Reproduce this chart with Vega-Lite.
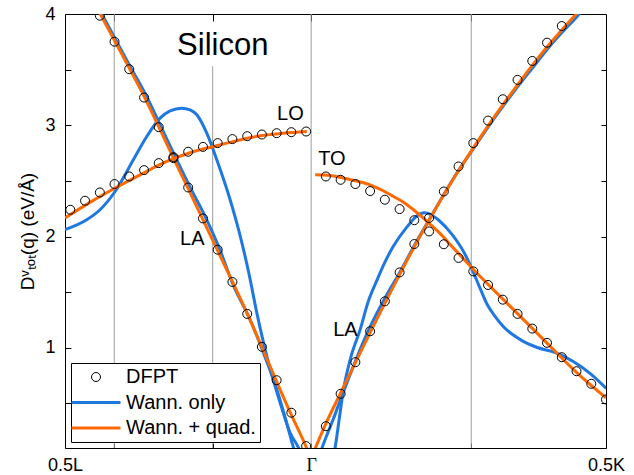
{
  "$schema": "https://vega.github.io/schema/vega-lite/v6.json",
  "width": 541,
  "height": 434,
  "autosize": {"type": "none"},
  "padding": {"left": 65, "top": 14, "right": 28, "bottom": 27},
  "background": "white",
  "config": {
    "view": {"stroke": "black", "strokeWidth": 1},
    "font": "Liberation Sans",
    "axis": {"grid": false, "domain": false, "tickColor": "black", "tickWidth": 1, "labelColor": "black", "labelFont": "Liberation Sans", "labelFontSize": 18, "titleFont": "Liberation Sans", "titleFontSize": 19, "titleFontWeight": "normal", "titleColor": "black"}
  },
  "datasets": {
    "vlines": [
      {"x": -0.3339, "y": 0.1, "y2": 4},
      {"x": -0.167, "y": 0.1, "y2": 3.53},
      {"x": 0, "y": 0.1, "y2": 4},
      {"x": 0.2715, "y": 0.1, "y2": 4}
    ],
    "curves": [
      {"series": "Wann. only", "branch": "LOL", "x": -0.4174, "y": 2.062},
      {"series": "Wann. only", "branch": "LOL", "x": -0.3806, "y": 2.151},
      {"series": "Wann. only", "branch": "LOL", "x": -0.358, "y": 2.241},
      {"series": "Wann. only", "branch": "LOL", "x": -0.3325, "y": 2.405},
      {"series": "Wann. only", "branch": "LOL", "x": -0.3015, "y": 2.69},
      {"series": "Wann. only", "branch": "LOL", "x": -0.2788, "y": 2.899},
      {"series": "Wann. only", "branch": "LOL", "x": -0.2562, "y": 3.064},
      {"series": "Wann. only", "branch": "LOL", "x": -0.2392, "y": 3.13},
      {"series": "Wann. only", "branch": "LOL", "x": -0.2194, "y": 3.154},
      {"series": "Wann. only", "branch": "LOL", "x": -0.2053, "y": 3.138},
      {"series": "Wann. only", "branch": "LOL", "x": -0.1939, "y": 3.094},
      {"series": "Wann. only", "branch": "LOL", "x": -0.177, "y": 2.929},
      {"series": "Wann. only", "branch": "LOL", "x": -0.16, "y": 2.69},
      {"series": "Wann. only", "branch": "LOL", "x": -0.1374, "y": 2.331},
      {"series": "Wann. only", "branch": "LOL", "x": -0.1222, "y": 2.044},
      {"series": "Wann. only", "branch": "LOL", "x": -0.1057, "y": 1.673},
      {"series": "Wann. only", "branch": "LOL", "x": -0.0921, "y": 1.314},
      {"series": "Wann. only", "branch": "LOL", "x": -0.0752, "y": 0.925},
      {"series": "Wann. only", "branch": "LOL", "x": -0.0526, "y": 0.506},
      {"series": "Wann. only", "branch": "LOL", "x": -0.0356, "y": 0.237},
      {"series": "Wann. only", "branch": "LOL", "x": -0.0215, "y": 0.103},
      {"series": "Wann. only", "branch": "LOL", "x": -0.0102, "y": -0.047},
      {"series": "Wann. only", "branch": "LAL", "x": -0.36, "y": 4.05},
      {"series": "Wann. only", "branch": "LAL", "x": -0.3297, "y": 3.751},
      {"series": "Wann. only", "branch": "LAL", "x": -0.3046, "y": 3.506},
      {"series": "Wann. only", "branch": "LAL", "x": -0.2788, "y": 3.258},
      {"series": "Wann. only", "branch": "LAL", "x": -0.2533, "y": 2.972},
      {"series": "Wann. only", "branch": "LAL", "x": -0.2279, "y": 2.69},
      {"series": "Wann. only", "branch": "LAL", "x": -0.2036, "y": 2.425},
      {"series": "Wann. only", "branch": "LAL", "x": -0.1798, "y": 2.181},
      {"series": "Wann. only", "branch": "LAL", "x": -0.1561, "y": 1.9},
      {"series": "Wann. only", "branch": "LAL", "x": -0.1318, "y": 1.56},
      {"series": "Wann. only", "branch": "LAL", "x": -0.1035, "y": 1.254},
      {"series": "Wann. only", "branch": "LAL", "x": -0.0809, "y": 0.955},
      {"series": "Wann. only", "branch": "LAL", "x": -0.0582, "y": 0.626},
      {"series": "Wann. only", "branch": "LAL", "x": -0.0441, "y": 0.374},
      {"series": "Wann. only", "branch": "LAL", "x": -0.03, "y": 0.103},
      {"series": "Wann. only", "branch": "LAL", "x": -0.0187, "y": -0.092},
      {"series": "Wann. only", "branch": "LAR", "x": 0.0085, "y": -0.056},
      {"series": "Wann. only", "branch": "LAR", "x": 0.0187, "y": 0.105},
      {"series": "Wann. only", "branch": "LAR", "x": 0.0271, "y": 0.222},
      {"series": "Wann. only", "branch": "LAR", "x": 0.0373, "y": 0.356},
      {"series": "Wann. only", "branch": "LAR", "x": 0.0492, "y": 0.527},
      {"series": "Wann. only", "branch": "LAR", "x": 0.0628, "y": 0.715},
      {"series": "Wann. only", "branch": "LAR", "x": 0.0747, "y": 0.877},
      {"series": "Wann. only", "branch": "LAR", "x": 0.0865, "y": 1.03},
      {"series": "Wann. only", "branch": "LAR", "x": 0.1001, "y": 1.191},
      {"series": "Wann. only", "branch": "LAR", "x": 0.1255, "y": 1.451},
      {"series": "Wann. only", "branch": "LAR", "x": 0.151, "y": 1.685},
      {"series": "Wann. only", "branch": "LAR", "x": 0.1748, "y": 1.918},
      {"series": "Wann. only", "branch": "LAR", "x": 0.2002, "y": 2.151},
      {"series": "Wann. only", "branch": "LAR", "x": 0.2257, "y": 2.385},
      {"series": "Wann. only", "branch": "LAR", "x": 0.2494, "y": 2.591},
      {"series": "Wann. only", "branch": "LAR", "x": 0.2749, "y": 2.788},
      {"series": "Wann. only", "branch": "LAR", "x": 0.3003, "y": 2.986},
      {"series": "Wann. only", "branch": "LAR", "x": 0.3258, "y": 3.174},
      {"series": "Wann. only", "branch": "LAR", "x": 0.3512, "y": 3.354},
      {"series": "Wann. only", "branch": "LAR", "x": 0.3767, "y": 3.524},
      {"series": "Wann. only", "branch": "LAR", "x": 0.4021, "y": 3.695},
      {"series": "Wann. only", "branch": "LAR", "x": 0.4276, "y": 3.847},
      {"series": "Wann. only", "branch": "LAR", "x": 0.4531, "y": 3.991},
      {"series": "Wann. only", "branch": "LAR", "x": 0.4598, "y": 4.036},
      {"series": "Wann. only", "branch": "TOR", "x": 0.0322, "y": -0.092},
      {"series": "Wann. only", "branch": "TOR", "x": 0.0407, "y": 0.105},
      {"series": "Wann. only", "branch": "TOR", "x": 0.0475, "y": 0.356},
      {"series": "Wann. only", "branch": "TOR", "x": 0.0543, "y": 0.608},
      {"series": "Wann. only", "branch": "TOR", "x": 0.0662, "y": 0.895},
      {"series": "Wann. only", "branch": "TOR", "x": 0.0831, "y": 1.164},
      {"series": "Wann. only", "branch": "TOR", "x": 0.0967, "y": 1.415},
      {"series": "Wann. only", "branch": "TOR", "x": 0.112, "y": 1.613},
      {"series": "Wann. only", "branch": "TOR", "x": 0.1255, "y": 1.775},
      {"series": "Wann. only", "branch": "TOR", "x": 0.1391, "y": 1.91},
      {"series": "Wann. only", "branch": "TOR", "x": 0.1629, "y": 2.089},
      {"series": "Wann. only", "branch": "TOR", "x": 0.1798, "y": 2.187},
      {"series": "Wann. only", "branch": "TOR", "x": 0.1917, "y": 2.214},
      {"series": "Wann. only", "branch": "TOR", "x": 0.2036, "y": 2.196},
      {"series": "Wann. only", "branch": "TOR", "x": 0.2155, "y": 2.151},
      {"series": "Wann. only", "branch": "TOR", "x": 0.2392, "y": 2.017},
      {"series": "Wann. only", "branch": "TOR", "x": 0.2613, "y": 1.837},
      {"series": "Wann. only", "branch": "TOR", "x": 0.2732, "y": 1.703},
      {"series": "Wann. only", "branch": "TOR", "x": 0.2867, "y": 1.532},
      {"series": "Wann. only", "branch": "TOR", "x": 0.2986, "y": 1.389},
      {"series": "Wann. only", "branch": "TOR", "x": 0.3122, "y": 1.281},
      {"series": "Wann. only", "branch": "TOR", "x": 0.3258, "y": 1.191},
      {"series": "Wann. only", "branch": "TOR", "x": 0.3546, "y": 1.074},
      {"series": "Wann. only", "branch": "TOR", "x": 0.3834, "y": 1.003},
      {"series": "Wann. only", "branch": "TOR", "x": 0.414, "y": 0.958},
      {"series": "Wann. only", "branch": "TOR", "x": 0.4445, "y": 0.877},
      {"series": "Wann. only", "branch": "TOR", "x": 0.4734, "y": 0.769},
      {"series": "Wann. only", "branch": "TOR", "x": 0.5005, "y": 0.635},
      {"series": "Wann. + quad.", "branch": "LOL", "x": -0.4174, "y": 2.167},
      {"series": "Wann. + quad.", "branch": "LOL", "x": -0.375, "y": 2.307},
      {"series": "Wann. + quad.", "branch": "LOL", "x": -0.3325, "y": 2.436},
      {"series": "Wann. + quad.", "branch": "LOL", "x": -0.2901, "y": 2.555},
      {"series": "Wann. + quad.", "branch": "LOL", "x": -0.2448, "y": 2.675},
      {"series": "Wann. + quad.", "branch": "LOL", "x": -0.2053, "y": 2.753},
      {"series": "Wann. + quad.", "branch": "LOL", "x": -0.1658, "y": 2.809},
      {"series": "Wann. + quad.", "branch": "LOL", "x": -0.1256, "y": 2.862},
      {"series": "Wann. + quad.", "branch": "LOL", "x": -0.0865, "y": 2.905},
      {"series": "Wann. + quad.", "branch": "LOL", "x": -0.0475, "y": 2.929},
      {"series": "Wann. + quad.", "branch": "LOL", "x": -0.0073, "y": 2.944},
      {"series": "Wann. + quad.", "branch": "LAL", "x": -0.3631, "y": 4.054},
      {"series": "Wann. + quad.", "branch": "LAL", "x": -0.3334, "y": 3.762},
      {"series": "Wann. + quad.", "branch": "LAL", "x": -0.3085, "y": 3.515},
      {"series": "Wann. + quad.", "branch": "LAL", "x": -0.2833, "y": 3.26},
      {"series": "Wann. + quad.", "branch": "LAL", "x": -0.2584, "y": 2.986},
      {"series": "Wann. + quad.", "branch": "LAL", "x": -0.2335, "y": 2.705},
      {"series": "Wann. + quad.", "branch": "LAL", "x": -0.2085, "y": 2.43},
      {"series": "Wann. + quad.", "branch": "LAL", "x": -0.1834, "y": 2.151},
      {"series": "Wann. + quad.", "branch": "LAL", "x": -0.1585, "y": 1.873},
      {"series": "Wann. + quad.", "branch": "LAL", "x": -0.1335, "y": 1.595},
      {"series": "Wann. + quad.", "branch": "LAL", "x": -0.1084, "y": 1.308},
      {"series": "Wann. + quad.", "branch": "LAL", "x": -0.0835, "y": 1.007},
      {"series": "Wann. + quad.", "branch": "LAL", "x": -0.0585, "y": 0.697},
      {"series": "Wann. + quad.", "branch": "LAL", "x": -0.0336, "y": 0.397},
      {"series": "Wann. + quad.", "branch": "LAL", "x": -0.0085, "y": 0.11},
      {"series": "Wann. + quad.", "branch": "LAL", "x": 0, "y": 0},
      {"series": "Wann. + quad.", "branch": "LAR", "x": 0, "y": 0},
      {"series": "Wann. + quad.", "branch": "LAR", "x": 0.0076, "y": 0.105},
      {"series": "Wann. + quad.", "branch": "LAR", "x": 0.025, "y": 0.32},
      {"series": "Wann. + quad.", "branch": "LAR", "x": 0.05, "y": 0.594},
      {"series": "Wann. + quad.", "branch": "LAR", "x": 0.075, "y": 0.868},
      {"series": "Wann. + quad.", "branch": "LAR", "x": 0.1, "y": 1.137},
      {"series": "Wann. + quad.", "branch": "LAR", "x": 0.125, "y": 1.402},
      {"series": "Wann. + quad.", "branch": "LAR", "x": 0.15, "y": 1.658},
      {"series": "Wann. + quad.", "branch": "LAR", "x": 0.175, "y": 1.909},
      {"series": "Wann. + quad.", "branch": "LAR", "x": 0.2, "y": 2.147},
      {"series": "Wann. + quad.", "branch": "LAR", "x": 0.225, "y": 2.376},
      {"series": "Wann. + quad.", "branch": "LAR", "x": 0.25, "y": 2.591},
      {"series": "Wann. + quad.", "branch": "LAR", "x": 0.275, "y": 2.797},
      {"series": "Wann. + quad.", "branch": "LAR", "x": 0.3, "y": 2.995},
      {"series": "Wann. + quad.", "branch": "LAR", "x": 0.325, "y": 3.183},
      {"series": "Wann. + quad.", "branch": "LAR", "x": 0.35, "y": 3.363},
      {"series": "Wann. + quad.", "branch": "LAR", "x": 0.375, "y": 3.538},
      {"series": "Wann. + quad.", "branch": "LAR", "x": 0.4, "y": 3.704},
      {"series": "Wann. + quad.", "branch": "LAR", "x": 0.425, "y": 3.856},
      {"series": "Wann. + quad.", "branch": "LAR", "x": 0.45, "y": 4.003},
      {"series": "Wann. + quad.", "branch": "LAR", "x": 0.46, "y": 4.06},
      {"series": "Wann. + quad.", "branch": "TOR", "x": 0.0068, "y": 2.555},
      {"series": "Wann. + quad.", "branch": "TOR", "x": 0.0288, "y": 2.551},
      {"series": "Wann. + quad.", "branch": "TOR", "x": 0.0548, "y": 2.526},
      {"series": "Wann. + quad.", "branch": "TOR", "x": 0.078, "y": 2.497},
      {"series": "Wann. + quad.", "branch": "TOR", "x": 0.1001, "y": 2.465},
      {"series": "Wann. + quad.", "branch": "TOR", "x": 0.1205, "y": 2.416},
      {"series": "Wann. + quad.", "branch": "TOR", "x": 0.1397, "y": 2.36},
      {"series": "Wann. + quad.", "branch": "TOR", "x": 0.1578, "y": 2.304},
      {"series": "Wann. + quad.", "branch": "TOR", "x": 0.1736, "y": 2.241},
      {"series": "Wann. + quad.", "branch": "TOR", "x": 0.1934, "y": 2.151},
      {"series": "Wann. + quad.", "branch": "TOR", "x": 0.2155, "y": 2.044},
      {"series": "Wann. + quad.", "branch": "TOR", "x": 0.2387, "y": 1.912},
      {"series": "Wann. + quad.", "branch": "TOR", "x": 0.2727, "y": 1.718},
      {"series": "Wann. + quad.", "branch": "TOR", "x": 0.3376, "y": 1.373},
      {"series": "Wann. + quad.", "branch": "TOR", "x": 0.3941, "y": 1.074},
      {"series": "Wann. + quad.", "branch": "TOR", "x": 0.4508, "y": 0.776},
      {"series": "Wann. + quad.", "branch": "TOR", "x": 0.5, "y": 0.551}
    ],
    "dfpt": [
      {"series": "DFPT", "branch": "LO", "x": -0.4084, "y": 2.241},
      {"series": "DFPT", "branch": "LO", "x": -0.3834, "y": 2.322},
      {"series": "DFPT", "branch": "LO", "x": -0.3583, "y": 2.396},
      {"series": "DFPT", "branch": "LO", "x": -0.3334, "y": 2.472},
      {"series": "DFPT", "branch": "LO", "x": -0.3085, "y": 2.54},
      {"series": "DFPT", "branch": "LO", "x": -0.2833, "y": 2.597},
      {"series": "DFPT", "branch": "LO", "x": -0.2584, "y": 2.66},
      {"series": "DFPT", "branch": "LO", "x": -0.2335, "y": 2.714},
      {"series": "DFPT", "branch": "LO", "x": -0.2085, "y": 2.762},
      {"series": "DFPT", "branch": "LO", "x": -0.1834, "y": 2.806},
      {"series": "DFPT", "branch": "LO", "x": -0.1585, "y": 2.84},
      {"series": "DFPT", "branch": "LO", "x": -0.1335, "y": 2.876},
      {"series": "DFPT", "branch": "LO", "x": -0.1084, "y": 2.902},
      {"series": "DFPT", "branch": "LO", "x": -0.0835, "y": 2.917},
      {"series": "DFPT", "branch": "LO", "x": -0.0585, "y": 2.929},
      {"series": "DFPT", "branch": "LO", "x": -0.0336, "y": 2.938},
      {"series": "DFPT", "branch": "LO", "x": -0.0085, "y": 2.944},
      {"series": "DFPT", "branch": "LAL", "x": -0.3583, "y": 3.985},
      {"series": "DFPT", "branch": "LAL", "x": -0.3334, "y": 3.751},
      {"series": "DFPT", "branch": "LAL", "x": -0.3085, "y": 3.504},
      {"series": "DFPT", "branch": "LAL", "x": -0.2833, "y": 3.249},
      {"series": "DFPT", "branch": "LAL", "x": -0.2584, "y": 2.983},
      {"series": "DFPT", "branch": "LAL", "x": -0.2335, "y": 2.705},
      {"series": "DFPT", "branch": "LAL", "x": -0.2085, "y": 2.441},
      {"series": "DFPT", "branch": "LAL", "x": -0.1834, "y": 2.163},
      {"series": "DFPT", "branch": "LAL", "x": -0.1585, "y": 1.882},
      {"series": "DFPT", "branch": "LAL", "x": -0.1335, "y": 1.592},
      {"series": "DFPT", "branch": "LAL", "x": -0.1084, "y": 1.305},
      {"series": "DFPT", "branch": "LAL", "x": -0.0835, "y": 1.009},
      {"series": "DFPT", "branch": "LAL", "x": -0.0585, "y": 0.709},
      {"series": "DFPT", "branch": "LAL", "x": -0.0336, "y": 0.417},
      {"series": "DFPT", "branch": "LAL", "x": -0.0085, "y": 0.117},
      {"series": "DFPT", "branch": "TO", "x": 0.025, "y": 2.54},
      {"series": "DFPT", "branch": "TO", "x": 0.05, "y": 2.51},
      {"series": "DFPT", "branch": "TO", "x": 0.075, "y": 2.472},
      {"series": "DFPT", "branch": "TO", "x": 0.1, "y": 2.409},
      {"series": "DFPT", "branch": "TO", "x": 0.125, "y": 2.331},
      {"series": "DFPT", "branch": "TO", "x": 0.15, "y": 2.247},
      {"series": "DFPT", "branch": "TO", "x": 0.175, "y": 2.147},
      {"series": "DFPT", "branch": "TO", "x": 0.2, "y": 2.046},
      {"series": "DFPT", "branch": "TO", "x": 0.225, "y": 1.931},
      {"series": "DFPT", "branch": "TO", "x": 0.25, "y": 1.808},
      {"series": "DFPT", "branch": "TO", "x": 0.275, "y": 1.687},
      {"series": "DFPT", "branch": "TO", "x": 0.3, "y": 1.565},
      {"series": "DFPT", "branch": "TO", "x": 0.325, "y": 1.433},
      {"series": "DFPT", "branch": "TO", "x": 0.35, "y": 1.305},
      {"series": "DFPT", "branch": "TO", "x": 0.375, "y": 1.173},
      {"series": "DFPT", "branch": "TO", "x": 0.4, "y": 1.045},
      {"series": "DFPT", "branch": "TO", "x": 0.425, "y": 0.916},
      {"series": "DFPT", "branch": "TO", "x": 0.45, "y": 0.79},
      {"series": "DFPT", "branch": "TO", "x": 0.475, "y": 0.677},
      {"series": "DFPT", "branch": "TO", "x": 0.5, "y": 0.536},
      {"series": "DFPT", "branch": "LAR", "x": 0.025, "y": 0.296},
      {"series": "DFPT", "branch": "LAR", "x": 0.05, "y": 0.587},
      {"series": "DFPT", "branch": "LAR", "x": 0.075, "y": 0.871},
      {"series": "DFPT", "branch": "LAR", "x": 0.1, "y": 1.149},
      {"series": "DFPT", "branch": "LAR", "x": 0.125, "y": 1.418},
      {"series": "DFPT", "branch": "LAR", "x": 0.15, "y": 1.678},
      {"series": "DFPT", "branch": "LAR", "x": 0.175, "y": 1.933},
      {"series": "DFPT", "branch": "LAR", "x": 0.2, "y": 2.167},
      {"series": "DFPT", "branch": "LAR", "x": 0.225, "y": 2.405},
      {"series": "DFPT", "branch": "LAR", "x": 0.25, "y": 2.63},
      {"series": "DFPT", "branch": "LAR", "x": 0.275, "y": 2.84},
      {"series": "DFPT", "branch": "LAR", "x": 0.3, "y": 3.042},
      {"series": "DFPT", "branch": "LAR", "x": 0.325, "y": 3.234},
      {"series": "DFPT", "branch": "LAR", "x": 0.35, "y": 3.408},
      {"series": "DFPT", "branch": "LAR", "x": 0.375, "y": 3.578},
      {"series": "DFPT", "branch": "LAR", "x": 0.4, "y": 3.742},
      {"series": "DFPT", "branch": "LAR", "x": 0.425, "y": 3.892}
    ],
    "bandlabels": [
      {"label": "LO", "x": -0.0577, "y": 3.049},
      {"label": "TO", "x": 0.0119, "y": 2.645},
      {"label": "LA", "x": -0.2223, "y": 1.927},
      {"label": "LA", "x": 0.0373, "y": 1.11}
    ],
    "title": [
      {"label": "Silicon", "x": -0.2273, "y": 3.632}
    ]
  },
  "layer": [
    {
      "data": {"name": "vlines"},
      "mark": {"type": "rule", "color": "#9e9e9e", "strokeWidth": 1},
      "encoding": {
        "x": {
          "field": "x", "type": "quantitative",
          "scale": {"domain": [-0.4174, 0.5], "nice": false, "zero": false},
          "axis": {
            "orient": "bottom", "title": null, "offset": -5,
            "values": [-0.4174, -0.3339, -0.167, 0, 0.2715, 0.5],
            "tickSize": 5, "labelPadding": 22.5, "labelBaseline": "alphabetic",
            "labelExpr": "datum.value < -0.4 ? '0.5L' : (datum.value == 0 ? 'Γ' : (datum.value >= 0.5 ? '0.5K' : ''))",
            "labelFont": {"condition": {"test": "datum.value == 0", "value": "Liberation Serif"}, "value": "Liberation Sans"},
            "labelFlush": false, "labelOverlap": false, "labelBound": false
          }
        },
        "y": {
          "field": "y", "type": "quantitative",
          "scale": {"domain": [0.1, 4], "nice": false, "zero": false},
          "axis": {
            "orient": "left", "offset": -6,
            "values": [0.5, 1, 1.5, 2, 2.5, 3, 3.5, 4],
            "tickSize": 6, "labelPadding": 10,
            "labelExpr": "datum.value % 1 === 0 ? format(datum.value, 'd') : ''",
            "labelFlush": false, "labelOverlap": false, "labelBound": false,
            "title": "Dᵛₜₒₜ(q) (eV/Å)", "titlePadding": 7
          }
        },
        "y2": {"field": "y2"}
      }
    },
    {
      "data": {"name": "curves"},
      "transform": [{"filter": "datum.series === 'Wann. only'"}],
      "mark": {"type": "line", "strokeWidth": 3, "interpolate": "monotone", "clip": true, "color": "#1f78e0"},
      "encoding": {
        "x": {"field": "x", "type": "quantitative", "axis": null},
        "y": {"field": "y", "type": "quantitative", "axis": null},
        "detail": {"field": "branch"}
      }
    },
    {
      "data": {"name": "curves"},
      "transform": [{"filter": "datum.series === 'Wann. + quad.'"}],
      "mark": {"type": "line", "strokeWidth": 3, "interpolate": "monotone", "clip": true, "color": "#ff6a00"},
      "encoding": {
        "x": {"field": "x", "type": "quantitative", "axis": null},
        "y": {"field": "y", "type": "quantitative", "axis": null},
        "detail": {"field": "branch"}
      }
    },
    {
      "data": {"name": "dfpt"},
      "mark": {"type": "point", "filled": false, "size": 400, "strokeWidth": 1, "opacity": 1, "clip": true},
      "encoding": {
        "x": {
          "field": "x", "type": "quantitative",
          "axis": {"orient": "top", "title": null, "offset": -7, "values": [-0.3339, -0.167, 0, 0.2715], "tickSize": 7, "labels": false}
        },
        "y": {
          "field": "y", "type": "quantitative",
          "axis": {"orient": "right", "title": null, "offset": -5, "values": [0.5, 1, 1.5, 2, 2.5, 3, 3.5], "tickSize": 5, "labels": false}
        },
        "color": {
          "field": "series", "type": "nominal",
          "scale": {"domain": ["DFPT", "Wann. only", "Wann. + quad."], "range": ["black", "#1f78e0", "#ff6a00"]},
          "legend": {
            "title": null, "orient": "bottom-left", "offset": 6, "padding": 4,
            "strokeColor": "black", "fillColor": "white", "cornerRadius": 0,
            "labelFont": "Liberation Sans", "labelFontSize": 20, "labelColor": "black",
            "symbolSize": 400, "symbolOffset": 11, "labelOffset": 20, "rowPadding": 5.5,
            "symbolFillColor": "transparent",
            "symbolStrokeWidth": {"expr": "datum.value === 'DFPT' ? 1 : 3"}
          }
        },
        "shape": {
          "field": "series", "type": "nominal",
          "scale": {"domain": ["DFPT", "Wann. only", "Wann. + quad."], "range": ["M-0.45,0A0.45,0.45,0,1,1,0.45,0A0.45,0.45,0,1,1,-0.45,0Z", "M-2.45,0H2.45", "M-2.45,0H2.45"]}
        }
      }
    },
    {
      "data": {"name": "bandlabels"},
      "mark": {"type": "text", "align": "left", "baseline": "alphabetic", "fontSize": 20, "font": "Liberation Sans", "color": "black"},
      "encoding": {
        "x": {"field": "x", "type": "quantitative", "axis": null},
        "y": {"field": "y", "type": "quantitative", "axis": null},
        "text": {"field": "label"}
      }
    },
    {
      "data": {"name": "title"},
      "mark": {"type": "text", "align": "left", "baseline": "alphabetic", "fontSize": 31, "font": "Liberation Sans", "color": "black"},
      "encoding": {
        "x": {"field": "x", "type": "quantitative", "axis": null},
        "y": {"field": "y", "type": "quantitative", "axis": null},
        "text": {"field": "label"}
      }
    }
  ]
}
